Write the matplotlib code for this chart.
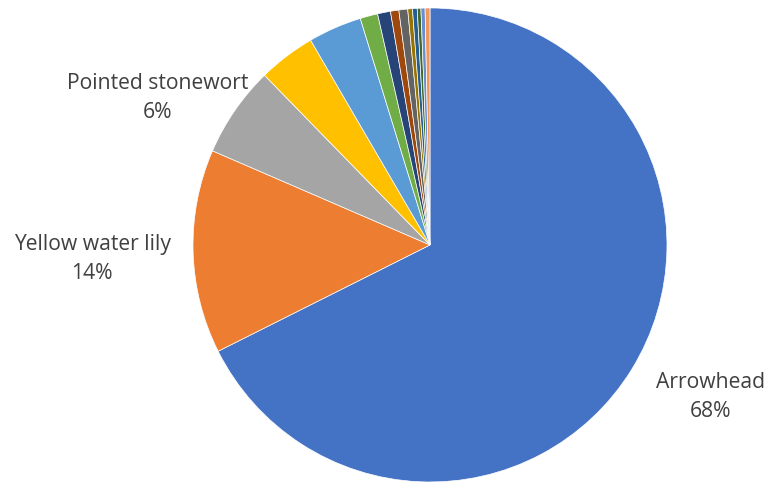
import matplotlib
matplotlib.use("Agg")
from matplotlib import pyplot as plt

# plant cover shares, largest first, in the order they go round the pie
species = ["Arrowhead", "Yellow water lily", "Pointed stonewort",
           "", "", "", "", "", "", "", "", "", "", ""]
shares = [67.6, 13.9, 6.2, 3.9, 3.65, 1.2, 0.88, 0.57, 0.6, 0.32, 0.32, 0.25, 0.28, 0.33]
colours = ["#4472C4", "#ED7D31", "#A5A5A5", "#FFC000", "#5B9BD5", "#70AD47",
           "#264478", "#9E480E", "#636363", "#997300", "#255E91", "#43682B",
           "#698ED0", "#F1975A"]

# where the labelled slices get their text (pie radius = 1)
label_pos = {"Arrowhead": (1.185, -0.64),
             "Yellow water lily": (-1.425, -0.06),
             "Pointed stonewort": (-1.15, 0.62)}

fig = plt.figure(figsize=(7.71, 4.83), dpi=100)
ax = fig.add_axes([0.2503, 0.0021, 0.6148, 0.9814])

wedges, _ = ax.pie(shares, colors=colours, startangle=90, counterclock=False,
                   wedgeprops=dict(edgecolor="white", linewidth=0.5))

total = sum(shares)
for name, val in zip(species, shares):
    if not name:
        continue
    x, y = label_pos[name]
    ax.text(x, y, "%s\n%d%%" % (name, round(val / total * 100)),
            ha="center", va="center", fontsize=15.2, color="#404040",
            family="Open Sans", linespacing=1.48)

ax.set_xlim(-1, 1)
ax.set_ylim(-1, 1)
ax.axis("off")

fig.savefig("out.png", dpi=100)
